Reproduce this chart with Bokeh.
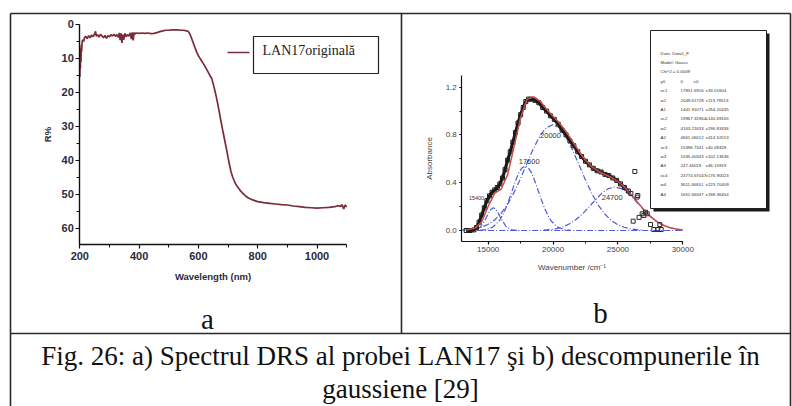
from bokeh.plotting import figure
from bokeh.models import Range1d, LinearAxis, SingleIntervalTicker, NumeralTickFormatter
from bokeh.embed import file_html
from bokeh.resources import INLINE
from bokeh.core.properties import value

# ---------------- data: panel a (DRS spectrum) ----------------
wavelength_nm = [200, 201, 202, 203, 204, 205, 206, 208, 210, 213, 216, 220, 225, 230, 235, 240, 245,
                 250, 253, 256, 260, 265, 270, 275, 280, 285, 290, 295, 300, 305, 310, 315, 320, 325,
                 330, 333, 336, 339, 342, 345, 348, 352, 356, 360, 365, 370, 374, 377, 380, 383, 386,
                 390, 400, 410, 420, 430, 440, 450, 460, 470, 480, 490, 500, 510, 520, 530, 540, 550,
                 560, 565, 570, 575, 580, 585, 590, 595, 600, 605, 610, 615, 620, 625, 630, 635, 640,
                 645, 650, 655, 660, 665, 670, 675, 680, 685, 690, 695, 700, 705, 710, 715, 720, 725,
                 730, 740, 750, 760, 770, 780, 790, 800, 820, 840, 860, 880, 900, 920, 940, 960, 980,
                 1000, 1020, 1040, 1060, 1070, 1080, 1085, 1090, 1095, 1100]
reflectance_pct = [15.5, 9.0, 13.0, 7.0, 11.0, 6.0, 8.0, 5.0, 4.5, 5.0, 3.8, 3.5, 4.2, 3.3, 3.9, 3.1, 3.6,
                   2.8, 2.0, 3.5, 3.0, 3.7, 2.9, 3.4, 3.9, 3.2, 4.1, 3.3, 3.6, 3.0, 3.4, 2.9, 3.5, 3.0,
                   3.8, 2.5, 4.6, 2.6, 5.4, 3.0, 4.5, 2.6, 3.6, 3.0, 3.4, 2.5, 4.3, 2.3, 4.7, 2.4, 2.8,
                   2.5, 2.6, 2.5, 2.6, 2.5, 2.7, 2.6, 2.4, 2.1, 1.9, 1.7, 1.7, 1.6, 1.6, 1.6, 1.7, 1.7,
                   1.9, 2.0, 2.6, 3.6, 4.8, 6.0, 7.2, 8.3, 9.2, 9.9, 10.6, 11.3, 12.0, 12.8, 13.6, 14.4, 15.2,
                   15.9, 17.5, 19.3, 21.2, 23.3, 25.6, 28.0, 30.3, 32.5, 34.7, 36.9, 39.2, 41.4, 43.4, 44.8, 45.9, 46.9,
                   47.6, 48.8, 49.8, 50.6, 51.2, 51.6, 51.9, 52.2, 52.5, 52.7, 52.9, 53.1, 53.2, 53.5, 53.7, 53.9, 54.0,
                   54.1, 54.0, 53.9, 53.7, 53.4, 53.6, 53.1, 54.4, 53.2, 53.8]
legend_a = ["LAN17originală"]

# ---------------- data: panel b (Gaussian decomposition) ----------------
data_wn = [13300, 13600, 13900, 14100, 14300, 14500, 14700, 14900, 15100, 15300, 15500, 15700, 15900,
           16100, 16300, 16500, 16700, 16900, 17100, 17300, 17500, 17700, 17900, 18100, 18300, 18600,
           18900, 19200, 19500, 19800, 20100, 20400, 20700, 21000, 21300, 21600, 21900, 22200, 22500,
           22800, 23100, 23400, 23700, 24000, 24300, 24600, 24900, 25200, 25500, 25800]
data_abs = [0.0, 0.0, 0.005, 0.025, 0.07, 0.13, 0.19, 0.25, 0.29, 0.32, 0.34, 0.36, 0.39,
            0.44, 0.51, 0.59, 0.66, 0.74, 0.82, 0.90, 0.97, 1.03, 1.08, 1.10, 1.10, 1.09,
            1.07, 1.03, 1.00, 0.96, 0.93, 0.89, 0.84, 0.80, 0.75, 0.71, 0.66, 0.62, 0.58,
            0.55, 0.52, 0.50, 0.49, 0.47, 0.46, 0.44, 0.42, 0.39, 0.36, 0.33]
scatter_wn = [26000, 26177, 26300, 26480, 26530, 26630, 26870, 26995, 27125, 27256, 27511, 27765, 28073,
              28227, 28335]
scatter_abs = [0.31, 0.078, 0.494, 0.28, 0.293, 0.11, 0.14, 0.126, 0.153, 0.14, 0.05, 0.008, 0.008,
               0.05, 0.008]

fit_wn = [13300, 14000, 14500, 15000, 15500, 16000, 16500, 17000, 17500, 18000, 18500, 19000, 19500,
          20000, 20500, 21000, 21500, 22000, 22500, 23000, 23500, 24000, 24500, 25000, 25500, 26000,
          26500, 27000, 27500, 28000, 28500, 29000, 29500, 30000]
fit_abs = [0.005, 0.02, 0.073, 0.203, 0.313, 0.347, 0.468, 0.705, 0.947, 1.10, 1.12, 1.084, 1.016,
           0.956, 0.898, 0.829, 0.747, 0.662, 0.588, 0.532, 0.494, 0.469, 0.444, 0.41, 0.363, 0.303,
           0.238, 0.174, 0.118, 0.074, 0.044, 0.024, 0.012, 0.005]

g3_wn = [13400, 13800, 14000, 14400, 14800, 15000, 15200, 15400, 15600, 15800, 16000, 16400, 16800, 17400]
g3_abs = [0.0, 0.002, 0.005, 0.029, 0.097, 0.141, 0.176, 0.19, 0.176, 0.141, 0.097, 0.029, 0.005, 0.0]

g1_wn = [14350, 14850, 15350, 15850, 16100, 16350, 16600, 16850, 17100, 17350, 17600, 17850, 18100,
         18350, 18600, 18850, 19100, 19350, 19600, 19850, 20350, 20850, 21350]
g1_abs = [0.002, 0.0075, 0.028, 0.080, 0.126, 0.185, 0.257, 0.335, 0.413, 0.48, 0.524, 0.54, 0.524,
          0.48, 0.413, 0.335, 0.257, 0.185, 0.126, 0.080, 0.028, 0.0075, 0.002]

g2_wn = [12970, 13470, 13970, 14470, 14970, 15470, 15970, 16470, 16970, 17470, 17970, 18470, 18970,
         19470, 19970, 20470, 20970, 21470, 21970, 22470, 22970, 23470, 23970, 24470, 24970, 25470,
         25970, 26470, 26970]
g2_abs = [0.003, 0.0068, 0.014, 0.027, 0.050, 0.0855, 0.140, 0.215, 0.313, 0.430, 0.558, 0.682, 0.789,
          0.860, 0.885, 0.860, 0.789, 0.682, 0.558, 0.430, 0.313, 0.215, 0.140, 0.0855, 0.050, 0.027,
          0.014, 0.0068, 0.003]

g4_wn = [19275, 19775, 20275, 20775, 21275, 21775, 22275, 22775, 23275, 23775, 24275, 24775, 25275,
         25775, 26275, 26775, 27275, 27775, 28275, 28775, 29275, 29775, 30000]
g4_abs = [0.0035, 0.0079, 0.016, 0.031, 0.056, 0.092, 0.140, 0.198, 0.258, 0.313, 0.351, 0.365, 0.351,
          0.313, 0.258, 0.198, 0.140, 0.092, 0.056, 0.031, 0.016, 0.0079, 0.005]

baseline_wn = [13300, 30000]
baseline_abs = [0.0, 0.0]

peak_label_wn = [14100, 18160, 19802, 24558]
peak_label_abs = [0.274, 0.580, 0.795, 0.274]
peak_labels = ["15400", "17600", "20000", "24700"]
peak_label_sizes = ["5.5px", "7.5px", "7.5px", "7.5px"]

fit_header = ["Data: Data1_F", "Model: Gauss", "Chi^2 = 0.0009"]
fit_names = ["y0", "xc1", "w1", "A1", "xc2", "w2", "A2", "xc3", "w3", "A3", "xc4", "w4", "A4"]
fit_values = ["0", "17851.6916", "2049.61728", "1441.91071", "19967.31964", "4163.21633", "4661.06012",
              "15396.7341", "1035.00343", "247.46019", "24774.67047", "3611.06651", "1651.66347"]
fit_errors = ["±0", "±33.01604", "±113.79513", "±264.20435", "±140.69165", "±296.83336", "±414.52013",
              "±40.08328", "±102.13636", "±46.15919", "±176.90023", "±223.70409", "±188.36454"]

caption_lines = ["Fig. 26: a) Spectrul DRS al probei LAN17 şi b) descompunerile în", "gaussiene [29]"]
panel_letters = ["a", "b"]

# ---------------- figure (canvas in page pixels) ----------------
W, H = 792, 406
p = figure(width=W, height=H, output_backend="svg", toolbar_location=None,
           x_range=Range1d(0, W), y_range=Range1d(H, 0),
           x_axis_type=None, y_axis_type=None, min_border=0)
p.outline_line_color = None
p.background_fill_color = "white"
p.border_fill_color = "white"

p.extra_x_ranges = {"xa": Range1d(-67.5, 2603.7), "xb": Range1d(-22593, 38456)}
p.extra_y_ranges = {"ya": Range1d(112.58, -7.07), "yb": Range1d(-1.4738, 1.926)}

SANS = "Liberation Sans"
SERIF = "Liberation Serif"

# table borders
border_col = "#2a2a2a"
p.segment(x0=[10, 10, 401, 10, 790], y0=[13, 13, 13, 333, 13],
          x1=[790, 10, 401, 790, 790], y1=[13, 406, 333, 333, 406],
          line_color=border_col, line_width=1.6)


def style_axis(ax, lab_size, lab_bold, lab_color, title_size, title_bold, tick_out, minor_out):
    ax.axis_line_color = "#111111"
    ax.axis_line_width = 1.4
    ax.major_tick_line_color = "#111111"
    ax.minor_tick_line_color = "#111111"
    ax.major_tick_line_width = 1.2
    ax.major_tick_out = tick_out
    ax.major_tick_in = 0
    ax.minor_tick_out = minor_out
    ax.minor_tick_in = 0
    ax.major_label_text_font = SANS
    ax.major_label_text_font_size = lab_size
    ax.major_label_text_font_style = "bold" if lab_bold else "normal"
    ax.major_label_text_color = lab_color
    ax.axis_label_text_font = SANS
    ax.axis_label_text_font_size = title_size
    ax.axis_label_text_font_style = "bold" if title_bold else "normal"
    ax.axis_label_text_color = lab_color


# ---- panel a axes ----
ax_ax = LinearAxis(x_range_name="xa", y_range_name="ya", fixed_location=64.9, bounds=(200, 1100),
                   ticker=SingleIntervalTicker(interval=200, num_minor_ticks=2),
                   axis_label="Wavelength (nm)")
style_axis(ax_ax, "11px", True, "#2b2b3b", "9.5px", True, 4, 3)
ax_ax.major_label_standoff = 3
ax_ax.axis_label_standoff = 8
p.add_layout(ax_ax, "below")

ay_ax = LinearAxis(x_range_name="xa", y_range_name="ya", fixed_location=200, bounds=(0, 64.9),
                   ticker=SingleIntervalTicker(interval=10, num_minor_ticks=2),
                   axis_label="R%")
style_axis(ay_ax, "11px", True, "#2b2b3b", "9.5px", True, 4, 3)
ay_ax.major_label_standoff = 2
ay_ax.axis_label_standoff = 5
p.add_layout(ay_ax, "left")

p.line(wavelength_nm, reflectance_pct, x_range_name="xa", y_range_name="ya",
       line_color="#7b2c38", line_width=1.7)

# legend a
p.quad(left=[253], right=[378], top=[36], bottom=[73], fill_color="white",
       line_color="#222222", line_width=1.2)
p.segment(x0=[227], y0=[52], x1=[249], y1=[52], line_color="#7b2c38", line_width=1.7)
p.text(x=[262], y=[50], text=legend_a, text_font=value(SERIF), text_font_size="14px",
       text_color="#222222", text_baseline="middle", text_align="left")

# ---- panel b axes ----
bx_ax = LinearAxis(x_range_name="xb", y_range_name="yb", fixed_location=-0.092, bounds=(12965, 30000),
                   ticker=SingleIntervalTicker(interval=5000, num_minor_ticks=2),
                   axis_label="Wavenumber /cm⁻¹")
style_axis(bx_ax, "8px", False, "#444444", "8px", False, 3, 2)
bx_ax.axis_line_width = 1.2
bx_ax.major_label_standoff = 3
bx_ax.axis_label_standoff = 7
p.add_layout(bx_ax, "below")

by_ax = LinearAxis(x_range_name="xb", y_range_name="yb", fixed_location=12965, bounds=(-0.092, 1.3),
                   ticker=SingleIntervalTicker(interval=0.4, num_minor_ticks=2),
                   formatter=NumeralTickFormatter(format="0.0"), axis_label="Absorbance")
style_axis(by_ax, "8px", False, "#444444", "8px", False, 2, 2)
by_ax.axis_line_width = 1.2
by_ax.major_label_standoff = 3
by_ax.axis_label_standoff = 8
p.add_layout(by_ax, "left")

blue = "#4f5bd5"
for gx, gy in [(g3_wn, g3_abs), (g1_wn, g1_abs), (g2_wn, g2_abs), (g4_wn, g4_abs)]:
    p.line(gx, gy, x_range_name="xb", y_range_name="yb", line_color=blue, line_width=1.2,
           line_dash="6 2 1 2")
p.line(baseline_wn, baseline_abs, x_range_name="xb", y_range_name="yb", line_color=blue,
       line_width=1.2, line_dash="6 2 1 2")

p.line(data_wn, data_abs, x_range_name="xb", y_range_name="yb", line_color="#1b1b1b", line_width=3.2)
p.scatter(data_wn, data_abs, x_range_name="xb", y_range_name="yb", marker="square", size=4,
          fill_color=None, line_color="#1b1b1b", line_width=1)
p.line(fit_wn, fit_abs, x_range_name="xb", y_range_name="yb", line_color="#c8504a", line_width=1.5)
p.scatter(scatter_wn, scatter_abs, x_range_name="xb", y_range_name="yb", marker="square", size=4,
          fill_color=None, line_color="#2b2b2b", line_width=1)

for lx, ly, lt, ls in zip(peak_label_wn, peak_label_abs, peak_labels, peak_label_sizes):
    p.text(x=[lx], y=[ly], text=[lt], x_range_name="xb", y_range_name="yb",
           text_font=value(SANS), text_font_size=ls, text_color="#333333",
           text_align="center", text_baseline="middle")

# fit parameter box (with shadow)
p.quad(left=[653], right=[769], top=[33], bottom=[211], fill_color="#1a1a1a", line_color=None)
p.quad(left=[650], right=[766], top=[30], bottom=[208], fill_color="white",
       line_color="#222222", line_width=1)
line_step = 9.4
y0 = 52.5
fs = "4.4px"
p.text(x=[660] * len(fit_header), y=[y0 + i * line_step for i in range(len(fit_header))],
       text=fit_header, text_font=value(SANS), text_font_size=fs, text_color="#333333",
       text_baseline="middle")
rows_y = [y0 + (i + len(fit_header)) * line_step for i in range(len(fit_names))]
p.text(x=[660] * len(fit_names), y=rows_y, text=fit_names, text_font=value(SANS),
       text_font_size=fs, text_color="#333333", text_baseline="middle")
p.text(x=[680] * len(fit_values), y=rows_y, text=fit_values, text_font=value(SANS),
       text_font_size=fs, text_color="#333333", text_baseline="middle")
p.text(x=[693] + [705] * (len(fit_errors) - 1), y=rows_y, text=fit_errors, text_font=value(SANS),
       text_font_size=fs, text_color="#333333", text_baseline="middle")

# panel letters and caption
p.text(x=[207, 600], y=[318, 312], text=panel_letters, text_font=value(SERIF), text_font_size="29px",
       text_color="#111111", text_align="center", text_baseline="middle")
p.text(x=[400, 400], y=[355, 388], text=caption_lines, text_font=value(SERIF), text_font_size="27px",
       text_color="#111111", text_align="center", text_baseline="middle")

open("out.html", "w").write(file_html(p, INLINE))
